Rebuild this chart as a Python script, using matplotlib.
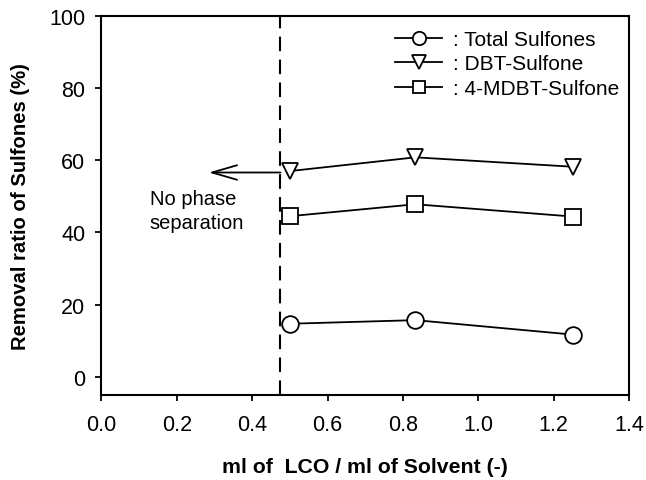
import matplotlib
matplotlib.use("Agg")
import matplotlib.pyplot as plt

plt.rcParams['font.family'] = ['Liberation Sans', 'DejaVu Sans']

# datos
ratio = [0.5, 0.833, 1.25]
total_sulfones = [14.7, 15.7, 11.7]
dbt_sulfone = [57.0, 60.8, 58.2]
mdbt_sulfone = [44.5, 47.8, 44.4]
limite_fase = 0.475

fig = plt.figure(figsize=(6.46, 4.81), dpi=100)
ax = fig.add_axes([0.157, 0.177, 0.817, 0.788])

estilo = dict(color='black', linewidth=1.3, markerfacecolor='white',
              markeredgecolor='black', markeredgewidth=1.3)
ax.plot(ratio, total_sulfones, marker='o', markersize=12, label=': Total Sulfones', **estilo)
ax.plot(ratio, dbt_sulfone, marker='v', markersize=12, label=': DBT-Sulfone', **estilo)
ax.plot(ratio, mdbt_sulfone, marker='s', markersize=11, label=': 4-MDBT-Sulfone', **estilo)

ax.axvline(limite_fase, color='black', linestyle=(0, (7, 4)), linewidth=1.5)
ax.annotate('', xy=(0.285, 56.6), xytext=(limite_fase, 56.6),
            arrowprops=dict(arrowstyle='->,head_length=1.2,head_width=0.35',
                            color='black', lw=1.3, mutation_scale=15,
                            shrinkA=0, shrinkB=0))
ax.text(0.128, 46.0, 'No phase\nseparation', fontsize=14.5,
        ha='left', va='center', linespacing=1.35)

ax.set_xlim(0, 1.4)
ax.set_ylim(-5, 100)
ax.set_xticks([0.0, 0.2, 0.4, 0.6, 0.8, 1.0, 1.2, 1.4])
ax.set_yticks([0, 20, 40, 60, 80, 100])
ax.tick_params(direction='out', length=4.5, width=1.3, labelsize=15.5)
ax.tick_params(axis='x', pad=9)
ax.tick_params(axis='y', pad=7)
for s in ax.spines.values():
    s.set_linewidth(1.5)

ax.set_xlabel('ml of  LCO / ml of Solvent (-)', fontsize=15.3, fontweight='bold', labelpad=16)
ax.set_ylabel('Removal ratio of Sulfones (%)', fontsize=14.6, fontweight='bold', labelpad=14)

ax.legend(loc='upper left', bbox_to_anchor=(0.557, 0.963), frameon=False,
          borderaxespad=0, borderpad=0, fontsize=15, markerscale=0.8,
          handlelength=2.25, handletextpad=0.5, labelspacing=0.27)

fig.savefig('out.png', dpi=100)
